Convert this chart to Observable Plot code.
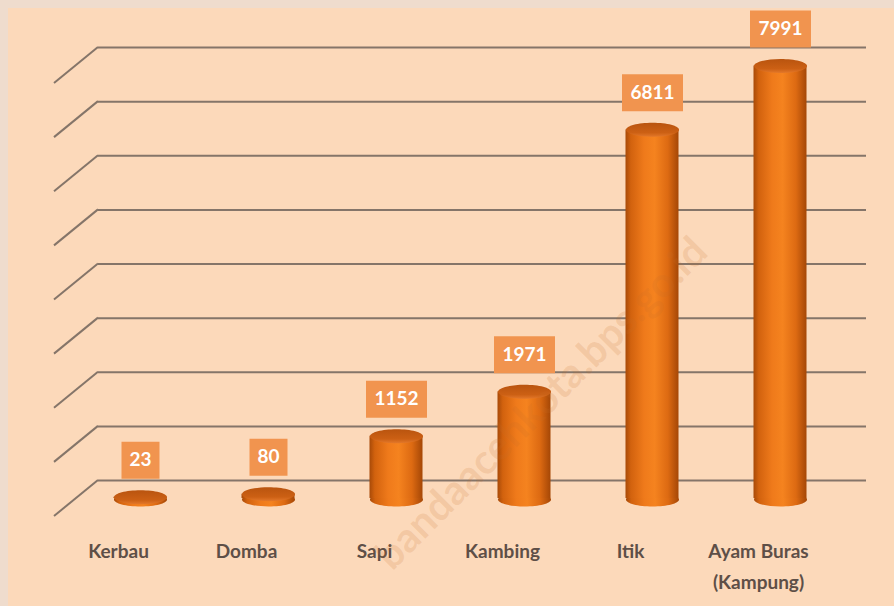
<!DOCTYPE html>
<html>
<head>
<meta charset="utf-8">
<script src="https://cdn.jsdelivr.net/npm/d3@7"></script>
<script src="https://cdn.jsdelivr.net/npm/@observablehq/plot@0.6"></script>
<style>
  html, body { margin: 0; padding: 0; background: #efdccd; width: 894px; height: 606px; overflow: hidden; }
  #chart { position: absolute; left: 8px; top: 8px; }
  #wm { position: absolute; left: 540px; top: 402px; transform: translate(-50%, -50%) rotate(-45deg);
        font: bold 41px Lato, sans-serif; color: rgba(200,110,40,0.17); white-space: nowrap; pointer-events: none; }
</style>
</head>
<body>
<div id="chart"></div>
<div id="wm">bandaacehkota.bps.go.id</div>
<script>
const categories = ["Kerbau", "Domba", "Sapi", "Kambing", "Itik", "Ayam Buras\n(Kampung)"];
const values = [23, 80, 1152, 1971, 6811, 7991];
const yTicks = [0, 1000, 2000, 3000, 4000, 5000, 6000, 7000, 8000];

const data = categories.map((cat, i) => ({cat, value: values[i], label: String(values[i])}));

const K = 0.5523;
const ellipse = (rx, ry) => ({
  draw(ctx) {
    ctx.moveTo(rx, 0);
    ctx.bezierCurveTo(rx, ry * K, rx * K, ry, 0, ry);
    ctx.bezierCurveTo(-rx * K, ry, -rx, ry * K, -rx, 0);
    ctx.bezierCurveTo(-rx, -ry * K, -rx * K, -ry, 0, -ry);
    ctx.bezierCurveTo(rx * K, -ry, rx, -ry * K, rx, 0);
    ctx.closePath();
  }
});
const box = (w, h) => ({
  draw(ctx) { ctx.rect(-w / 2, -h / 2, w, h); }
});

const DX = 22, DY = 18; // half-depth perspective offset
const gridColor = "#857569";

const defs = () => {
  const d = d3.create("svg:defs");
  const g = d.append("linearGradient").attr("id", "cyl").attr("x1", 0).attr("x2", 1).attr("y1", 0).attr("y2", 0);
  [[0, "#a84a08"], [0.1, "#d2620e"], [0.35, "#ef7a1b"], [0.55, "#f5831f"], [0.8, "#dd6a12"], [1, "#a54706"]]
    .forEach(([o, c]) => g.append("stop").attr("offset", o).attr("stop-color", c));
  const t = d.append("linearGradient").attr("id", "top").attr("x1", 0).attr("x2", 0).attr("y1", 0).attr("y2", 1);
  [[0, "#b9540f"], [0.7, "#cc6014"], [1, "#e3782a"]]
    .forEach(([o, c]) => t.append("stop").attr("offset", o).attr("stop-color", c));
  return d.node();
};

const diagonals = (index, scales, values, dims) => {
  const g = d3.create("svg:g").attr("stroke", gridColor).attr("stroke-width", 2);
  for (const v of yTicks) {
    const y = scales.y(v);
    g.append("line")
      .attr("x1", dims.marginLeft + DX).attr("y1", y - DY)
      .attr("x2", dims.marginLeft - DX).attr("y2", y + DY);
  }
  return g.node();
};

const chart = Plot.plot({
  width: 886,
  height: 598,
  marginLeft: 68,
  marginRight: 50,
  marginTop: 57,
  marginBottom: 108,
  style: {background: "#fcd9ba", fontFamily: "Lato, sans-serif", overflow: "visible"},
  x: {domain: categories, padding: 0, axis: null},
  y: {domain: [0, 8000], axis: null},
  marks: [
    defs,
    Plot.ruleY(yTicks, {dx: DX, dy: -DY, stroke: gridColor, strokeWidth: 2}),
    diagonals,
    Plot.dot(data, {x: "cat", y: () => 0, dy: 1, symbol: ellipse(26.5, 7), fill: "url(#cyl)", stroke: "none"}),
    Plot.barY(data, {x: "cat", y: "value", insetLeft: 37.5, insetRight: 37.5, fill: "url(#cyl)"}),
    Plot.dot(data, {x: "cat", y: "value", symbol: ellipse(26.5, 7), fill: "url(#top)", stroke: "none"}),
    Plot.dot(data.filter(d => d.label.length <= 2), {x: "cat", y: "value", dy: -37, symbol: box(38, 37), fill: "#f1944f", stroke: "none"}),
    Plot.dot(data.filter(d => d.label.length > 2), {x: "cat", y: "value", dy: -37, symbol: box(61, 37), fill: "#f1944f", stroke: "none"}),
    Plot.text(data, {x: "cat", y: "value", dy: -37, text: "label", fill: "white", fontSize: 19, fontWeight: "bold"}),
    Plot.text(data, {x: "cat", y: () => 0, dx: -DX, dy: 37, text: "cat", lineAnchor: "top", lineHeight: 1.65,
                     fill: "#5e4f47", fontSize: 19, fontWeight: "bold"})
  ]
});
document.getElementById("chart").appendChild(chart);
</script>
</body>
</html>
